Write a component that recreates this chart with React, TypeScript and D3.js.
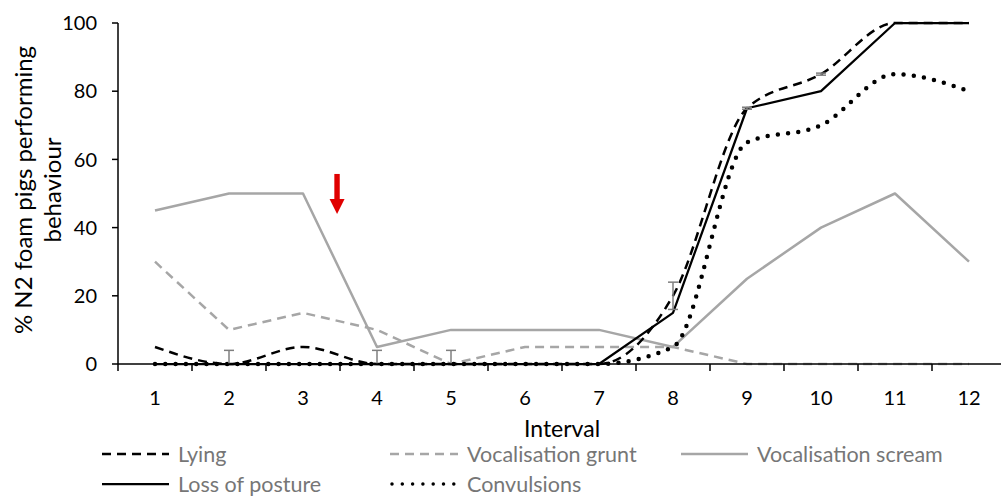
import React from "react";
import * as d3 from "d3";

const intervals = [1, 2, 3, 4, 5, 6, 7, 8, 9, 10, 11, 12];
const lying = [5, 0, 5, 0, 0, 0, 0, 20, 75, 85, 100, 100];
const lyingErr = [0, 4, 0, 4, 4, 0, 0, 4, 0.3, 0.3, 0, 0];
const grunt = [30, 10, 15, 10, 0, 5, 5, 5, 0, 0, 0, 0];
const scream = [45, 50, 50, 5, 10, 10, 10, 5, 25, 40, 50, 30];
const lossOfPosture = [0, 0, 0, 0, 0, 0, 0, 15, 75, 80, 100, 100];
const convulsions = [0, 0, 0, 0, 0, 0, 0, 5, 65, 70, 85, 80];
const yTicks = [0, 20, 40, 60, 80, 100];
const arrowAt = { x: 3.46, y: 44 };

const W = 1001;
const H = 497;
const FONT = "Lato, 'Open Sans', sans-serif";

export default function App() {
  const left = 118;
  const band = 74;
  const x = d3
    .scaleLinear()
    .domain([0.5, 12.5])
    .range([left, left + band * 12]);
  const y = d3.scaleLinear().domain([0, 100]).range([364, 23]);

  const straight = d3
    .line<number>()
    .x((_, i) => x(intervals[i]))
    .y((d) => y(d));
  const smooth = d3
    .line<number>()
    .x((_, i) => x(intervals[i]))
    .y((d) => y(d))
    .curve(d3.curveMonotoneX);

  const series = [
    { name: "Vocalisation scream", data: scream, gen: straight, stroke: "#a6a6a6", width: 2.5, dash: "none", cap: "butt" },
    { name: "Vocalisation grunt", data: grunt, gen: straight, stroke: "#a6a6a6", width: 2.5, dash: "9 6", cap: "butt" },
    { name: "Loss of posture", data: lossOfPosture, gen: straight, stroke: "#000", width: 2.25, dash: "none", cap: "butt" },
    { name: "Lying", data: lying, gen: smooth, stroke: "#000", width: 2.5, dash: "9 6", cap: "butt" },
    { name: "Convulsions", data: convulsions, gen: smooth, stroke: "#000", width: 4.5, dash: "0 10.3", cap: "round" },
  ];
  const byName = (n: string) => series.find((s) => s.name === n)!;

  const legendEntries = [
    { name: "Lying", lx: 102, tx: 178, y: 454 },
    { name: "Vocalisation grunt", lx: 390, tx: 467, y: 454 },
    { name: "Vocalisation scream", lx: 681, tx: 757, y: 454 },
    { name: "Loss of posture", lx: 102, tx: 178, y: 484 },
    { name: "Convulsions", lx: 390, tx: 467, y: 484 },
  ];

  const ax = x(arrowAt.x);
  const ay = y(arrowAt.y);

  return (
    <svg
      width={W}
      height={H}
      style={{ position: "absolute", left: 0, top: 0, background: "#fff" }}
      fontFamily={FONT}
    >
      <rect width={W} height={H} fill="#fff" />
      {/* series lines */}
      {series.map((s) => (
        <path
          key={s.name}
          d={s.gen(s.data) || ""}
          fill="none"
          stroke={s.stroke}
          strokeWidth={s.width}
          strokeDasharray={s.dash}
          strokeLinecap={s.cap as any}
          strokeLinejoin="round"
        />
      ))}
      {/* error bars on lying */}
      {lying.map((v, i) =>
        lyingErr[i] > 0 ? (
          <g key={"e" + i} stroke="#7f7f7f" strokeWidth={1.5}>
            <line x1={x(intervals[i])} x2={x(intervals[i])} y1={y(Math.max(0, v - lyingErr[i]))} y2={y(v + lyingErr[i])} />
            <line x1={x(intervals[i]) - 5} x2={x(intervals[i]) + 5} y1={y(v + lyingErr[i])} y2={y(v + lyingErr[i])} />
            {v - lyingErr[i] > 0 && (
              <line x1={x(intervals[i]) - 5} x2={x(intervals[i]) + 5} y1={y(v - lyingErr[i])} y2={y(v - lyingErr[i])} />
            )}
          </g>
        ) : null
      )}
      {/* y axis */}
      <line x1={left} x2={left} y1={y(100)} y2={y(0)} stroke="#000" strokeWidth={1.5} />
      {yTicks.map((t) => (
        <g key={"y" + t}>
          <line x1={left - 6} x2={left} y1={y(t)} y2={y(t)} stroke="#000" strokeWidth={1.5} />
          <text x={left - 21} y={y(t)} dy="0.36em" textAnchor="end" fontSize={20} fill="#000">
            {t}
          </text>
        </g>
      ))}
      {/* x axis */}
      <line x1={left} x2={W} y1={y(0)} y2={y(0)} stroke="#000" strokeWidth={1.5} />
      {d3.range(0, 13).map((k) => (
        <line key={"xt" + k} x1={left + band * k} x2={left + band * k} y1={y(0)} y2={y(0) + 7} stroke="#000" strokeWidth={1.5} />
      ))}
      {intervals.map((c) => (
        <text key={"xl" + c} x={x(c)} y={398} dy="0.36em" textAnchor="middle" fontSize={20} fill="#000">
          {c}
        </text>
      ))}
      {/* axis titles */}
      <text x={562} y={429} dy="0.36em" textAnchor="middle" fontSize={23} fill="#000">
        Interval
      </text>
      <g transform="translate(23,190) rotate(-90)">
        <text x={0} y={0} dy="0.36em" textAnchor="middle" fontSize={24} fill="#000">
          % N2 foam pigs performing
        </text>
        <text x={0} y={29} dy="0.36em" textAnchor="middle" fontSize={24} fill="#000">
          behaviour
        </text>
      </g>
      {/* red arrow */}
      <g fill="#e00000">
        <rect x={ax - 2.7} y={ay - 40} width={5.4} height={26} />
        <path d={`M${ax - 7.5},${ay - 15} L${ax + 7.5},${ay - 15} L${ax},${ay} Z`} />
      </g>
      {/* legend */}
      {legendEntries.map((e) => {
        const s = byName(e.name);
        const dotted = s.cap === "round";
        return (
          <g key={"lg" + e.name}>
            <line
              x1={e.lx + (dotted ? 2 : 0)}
              x2={e.tx - 9}
              y1={e.y}
              y2={e.y}
              stroke={s.stroke}
              strokeWidth={dotted ? 3.5 : s.width}
              strokeDasharray={dotted ? "0 10.3" : s.dash}
              strokeLinecap={s.cap as any}
            />
            <text x={e.tx} y={e.y} dy="0.36em" fontSize={21.5} fill="#767676">
              {e.name}
            </text>
          </g>
        );
      })}
    </svg>
  );
}
